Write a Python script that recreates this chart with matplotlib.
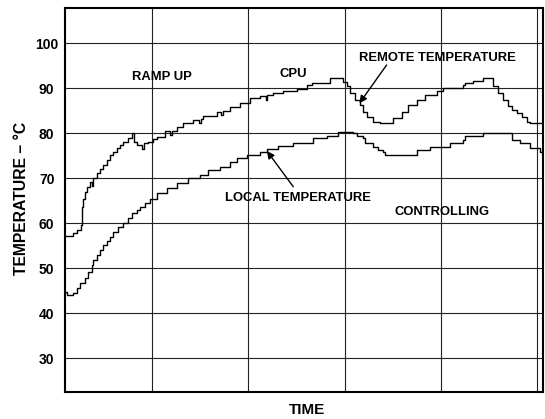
import matplotlib
matplotlib.use('Agg')
import matplotlib.pyplot as plt

# time axis: arbitrary units, one grid division = 100
remote_t = [10.3, 17.3, 21.4, 25.6, 26.9, 28.3, 30.4, 32.4, 35.2, 37.0, 38.7, 42.2,
            45.6, 49.1, 52.6, 56.0, 59.5, 63.0, 66.4, 69.9, 75.1, 78.6, 81.0, 84.4,
            89.0, 91.4, 95.8, 101.0, 104.6, 113.2, 118.6, 120.4, 125.4, 132.2, 142.6,
            148.5, 150.2, 153.0, 166.9, 172.0, 173.8, 180.8, 191.1, 201.5, 211.9,
            218.0, 219.6, 225.8, 236.2, 250.1, 260.5, 265.7, 284.7, 298.5, 302.1,
            305.5, 310.7, 315.9, 319.3, 322.9, 329.7, 336.7, 347.1, 350.5, 359.3,
            366.1, 374.8, 383.5, 395.6, 402.5, 419.9, 423.3, 425.1, 433.7, 444.1,
            451.1, 454.5, 459.7, 464.9, 470.1, 473.6, 478.8, 484.0, 489.2, 492.6, 506.1]
remote_temp = [57.2, 57.8, 58.5, 59.6, 63.7, 65.5, 67.0, 68.0, 69.2, 68.3, 70.0, 71.1,
               72.0, 73.0, 74.1, 75.2, 75.9, 76.7, 77.4, 78.1, 78.9, 80.0, 78.1, 77.4,
               76.4, 77.9, 78.1, 78.7, 79.2, 80.4, 79.6, 80.6, 81.5, 82.2, 83.0,
               82.2, 83.2, 83.8, 84.8, 84.0, 85.0, 85.9, 86.7, 87.8, 88.3,
               87.5, 88.6, 89.0, 89.5, 89.8, 90.7, 91.2, 92.2, 91.5, 90.4,
               88.9, 87.4, 86.3, 84.8, 83.7, 82.6, 82.2, 82.2, 83.3, 84.8,
               86.3, 87.4, 88.5, 89.5, 90.0, 90.0, 90.7, 91.1, 91.6, 92.2,
               92.2, 90.4, 88.9, 87.4, 86.1, 85.2, 84.4, 83.7, 82.6, 82.2, 82.2]

local_t = [10.3, 11.6, 17.3, 21.4, 24.8, 30.1, 33.5, 37.0, 38.7, 42.2, 45.6, 49.1,
           52.6, 56.0, 59.5, 64.7, 69.9, 75.1, 78.6, 83.8, 87.2, 92.4, 97.6, 104.6,
           115.0, 125.4, 137.4, 149.6, 158.2, 170.4, 180.8, 187.7, 198.1, 211.9,
           218.9, 231.0, 246.6, 267.4, 281.3, 293.3, 308.9, 312.5, 319.3, 321.1,
           329.7, 334.9, 340.1, 341.9, 374.8, 388.7, 409.5, 423.3, 425.1, 444.1,
           466.6, 473.6, 482.2, 492.6, 503.0, 506.1]
local_temp = [44.8, 44.1, 44.4, 45.6, 46.7, 47.8, 49.2, 50.7, 51.8, 53.0, 54.1, 55.2,
              56.1, 57.0, 58.1, 59.2, 60.0, 61.1, 62.2, 63.0, 63.7, 64.4, 65.5, 66.7,
              67.8, 68.9, 70.0, 70.7, 71.8, 72.6, 73.7, 74.4, 75.2, 75.9,
              76.5, 77.2, 77.8, 78.9, 79.4, 80.2, 80.0, 79.3, 78.9, 77.8,
              76.9, 76.3, 75.9, 75.1, 76.3, 77.0, 77.9, 78.5, 79.3, 80.1,
              80.1, 78.5, 77.8, 76.7, 75.9, 75.1]

y_ticks = [30, 40, 50, 60, 70, 80, 90, 100]
x_grid = [100, 200, 300, 400, 500]

plt.rcParams['font.family'] = ['Liberation Sans', 'DejaVu Sans']
plt.rcParams['font.weight'] = 'bold'

fig = plt.figure(figsize=(5.45, 4.19), dpi=100)
ax = fig.add_axes([0.120, 0.0644, 0.876, 0.9166])

ax.plot(remote_t, remote_temp, color='black', linewidth=1.0, drawstyle='steps-post')
ax.plot(local_t, local_temp, color='black', linewidth=1.0, drawstyle='steps-post')

ax.set_xlim(9.7, 506.1)
ax.set_ylim(22.5, 107.85)
ax.set_xticks(x_grid)
ax.set_xticklabels([])
ax.set_yticks(y_ticks)
ax.set_yticklabels([str(v) for v in y_ticks], fontsize=10, fontweight='bold')
for lab in ax.get_yticklabels():
    lab.set_horizontalalignment('center')
ax.tick_params(axis='both', length=0)
ax.tick_params(axis='y', pad=13.5)
ax.grid(True, color='#222222', linewidth=0.8)
for s in ax.spines.values():
    s.set_linewidth(1.5)

txt = dict(fontsize=9.4, fontweight='bold', ha='center', va='center')
ax.text(109.8, 92.44, 'RAMP UP', **txt)
ax.text(246.6, 93.07, 'CPU', **txt)
ax.text(396.5, 96.73, 'REMOTE TEMPERATURE', **txt)
ax.text(251.5, 65.62, 'LOCAL TEMPERATURE', **txt)
ax.text(401.7, 62.51, 'CONTROLLING', **txt)

arrow = dict(arrowstyle='-|>', color='black', linewidth=1.0, mutation_scale=11,
             shrinkA=0, shrinkB=0)
ax.annotate('', xy=(315.4, 86.67), xytext=(343.7, 95.18), arrowprops=arrow)
ax.annotate('', xy=(219.2, 76.07), xytext=(246.6, 68.13), arrowprops=arrow)

fig.text(306.7 / 545, 1 - 409.7 / 419, 'TIME', fontsize=11, fontweight='bold',
         ha='center', va='center')
fig.text(21.7 / 545, 1 - 198.5 / 419, 'TEMPERATURE – °C', fontsize=11.3,
         fontweight='bold', ha='center', va='center', rotation=90)

fig.savefig('out.png', dpi=100)
